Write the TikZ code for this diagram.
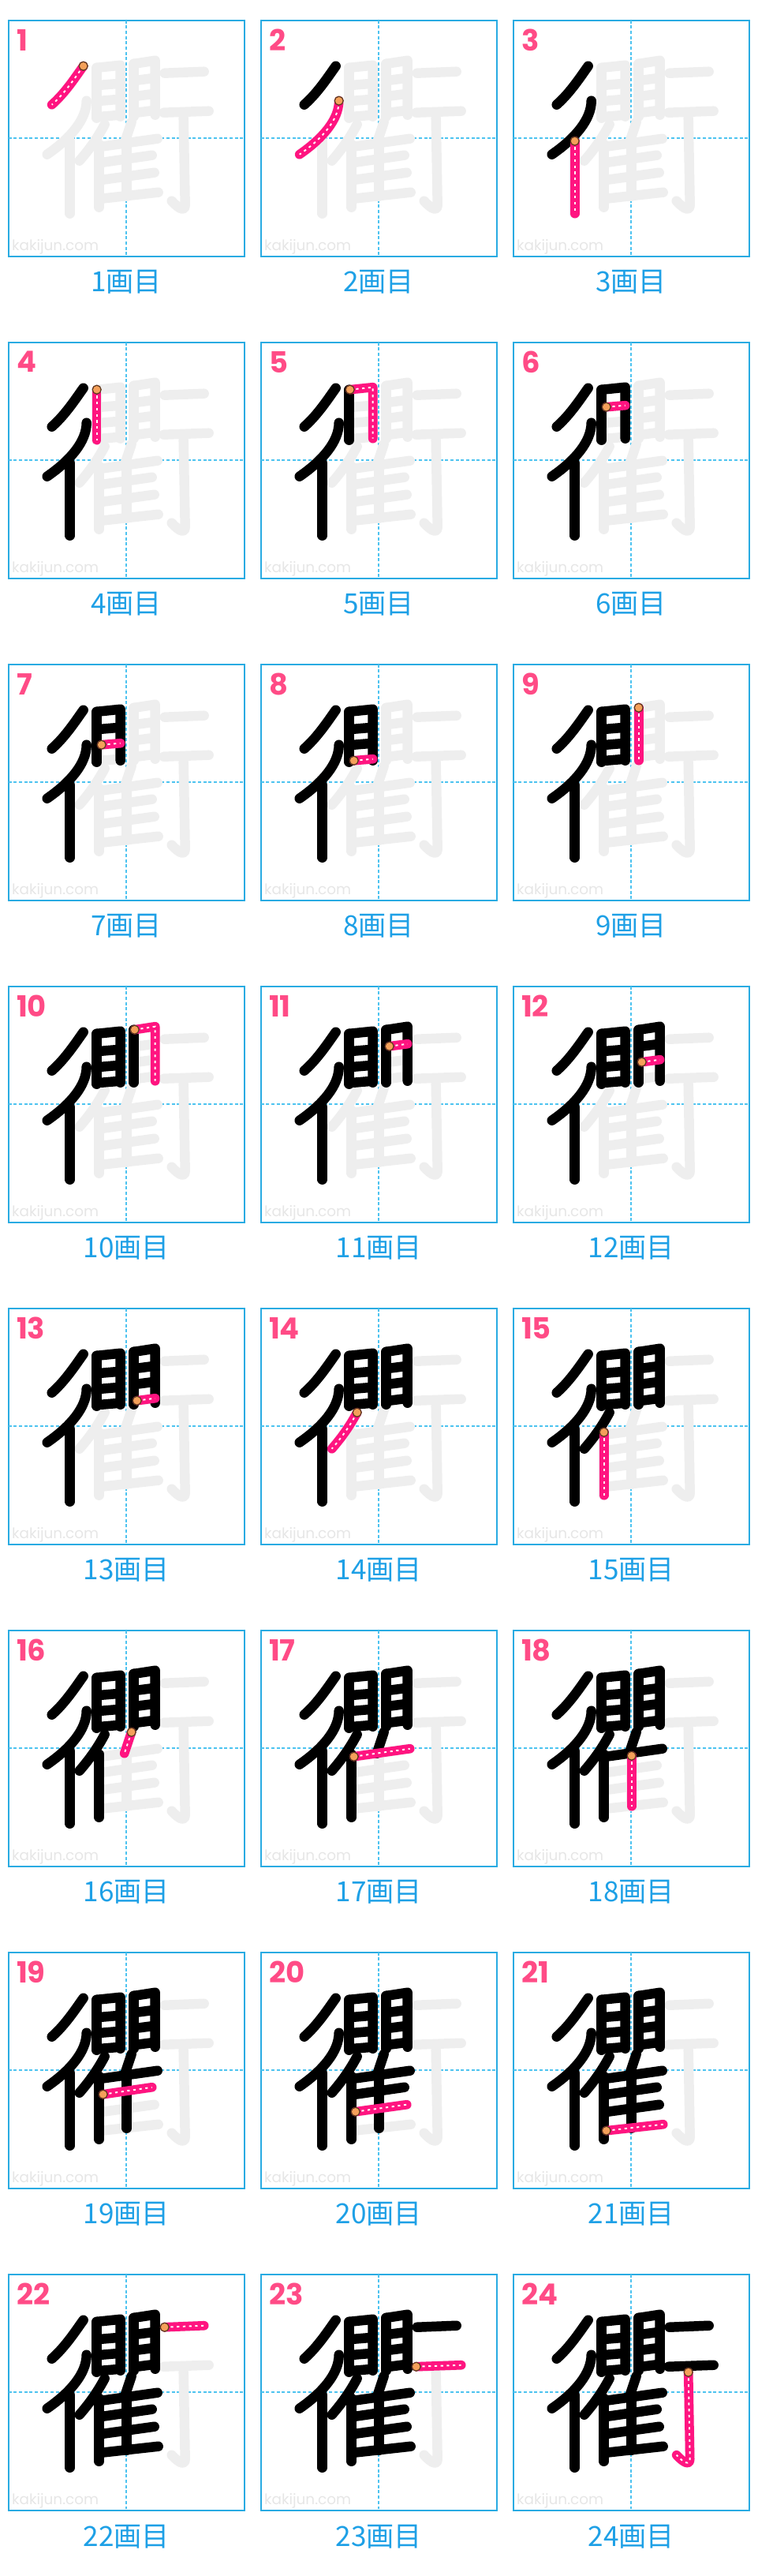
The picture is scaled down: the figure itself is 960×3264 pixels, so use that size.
\documentclass[tikz,border=0pt]{standalone}
\usepackage{fontspec}
\usepackage{tikz}
\usetikzlibrary{positioning}
\newfontfamily\jpfont{Noto Sans CJK JP}
\newfontfamily\numfont{Poppins}

\definecolor{boxblue}{HTML}{29ABE2}
\definecolor{guideblue}{HTML}{4DC3F0}
\definecolor{capblue}{HTML}{1EA0E6}
\definecolor{numpink}{HTML}{FF4B86}
\definecolor{strokepink}{HTML}{FF1480}
\definecolor{ghostgray}{HTML}{EEEEEE}
\definecolor{markgray}{HTML}{E6E6E6}
\definecolor{dotorange}{HTML}{F5A05A}
\definecolor{dotrim}{HTML}{5C3A1E}

% strokes of the character, cell coordinates in px (y down)
\newcommand\defstroke[3]{%
  \expandafter\def\csname kbeg#1\endcsname{#2}%
  \expandafter\def\csname kpath#1\endcsname{#2 #3}}
\defstroke{1}{(95,58)}{.. controls (85,72) and (72,92) .. (55,107)}
\defstroke{2}{(99,102)}{.. controls (99,126) and (78,150) .. (49,170)}
\defstroke{3}{(78,153)}{-- (78,245)}
\defstroke{4}{(112,60)}{-- (112,124)}
\defstroke{5}{(113,60)}{-- (142,57) -- (142,122)}
\defstroke{6}{(118,82)}{-- (142,80)}
\defstroke{7}{(118,102)}{-- (142,100)}
\defstroke{8}{(118,122)}{-- (142,120)}
\defstroke{9}{(159,55)}{-- (159,122)}
\defstroke{10}{(160,55)}{-- (186,51) -- (186,120)}
\defstroke{11}{(163,76)}{-- (186,73)}
\defstroke{12}{(163,96)}{-- (186,93)}
\defstroke{13}{(163,117)}{-- (186,114)}
\defstroke{14}{(122,132)}{.. controls (114,147) and (104,162) .. (90,178)}
\defstroke{15}{(115,157)}{-- (115,237)}
\defstroke{16}{(156,129)}{-- (147,156)}
\defstroke{17}{(118,160)}{-- (189,150)}
\defstroke{18}{(150,159)}{-- (150,223)}
\defstroke{19}{(120,180)}{-- (182,171)}
\defstroke{20}{(120,202)}{-- (185,193)}
\defstroke{21}{(118,226)}{-- (190,218)}
\defstroke{22}{(198,67)}{-- (248,65)}
\defstroke{23}{(197,117)}{-- (254,115)}
\defstroke{24}{(222,124)}{-- (224,234) .. controls (224,242) and (217,240) .. (207,229)}

\begin{document}
\begin{tikzpicture}[x=0.02cm, y=-0.02cm,
  cellbox/.style={draw=boxblue, line width=1pt},
  guide/.style={guideblue, line width=0.9pt, dash pattern=on 2.2pt off 1.6pt},
  ghost/.style={ghostgray, line width=7.1pt, line cap=round, line join=round},
  done/.style={black, line width=7.1pt, line cap=round, line join=round},
  current/.style={strokepink, line width=6.6pt, line cap=round, line join=round},
  currentdots/.style={white, line width=1.1pt, dash pattern=on 1.8pt off 2.6pt},
  startdot/.style={fill=dotorange, draw=dotrim, line width=0.7pt},
  numlabel/.style={numpink, font=\numfont\bfseries\fontsize{21}{21}\selectfont, inner sep=0pt, anchor=west},
  caplabel/.style={capblue, font=\jpfont\fontsize{20}{20}\selectfont, inner sep=0pt},
  watermark/.style={markgray, font=\numfont\fontsize{10.5}{10.5}\selectfont, inner sep=0pt, anchor=base west}]

  \useasboundingbox (0,0) rectangle (960,3264);

  \foreach \n in {1,...,24}{
    \pgfmathtruncatemacro\col{mod(\n-1,3)}
    \pgfmathtruncatemacro\row{div(\n-1,3)}
    \pgfmathtruncatemacro\prev{\n-1}
    \begin{scope}[shift={(10.7+320*\col,25.7+408*\row)}]
      % frame and guide lines
      \draw[cellbox] (0,0) rectangle (299,299);
      \draw[guide] (149.5,0) -- (149.5,299);
      \draw[guide] (0,149.5) -- (299,149.5);
      \node[watermark] (mark\n) at (4,292) {kakijun.com};
      % ghost character
      \foreach \k in {1,...,24}{
        \expandafter\let\expandafter\kp\csname kpath\k\endcsname
        \draw[ghost] \kp;
      }
      % strokes already written
      \ifnum\n>1
        \foreach \k in {1,...,\prev}{
          \expandafter\let\expandafter\kp\csname kpath\k\endcsname
          \draw[done] \kp;
        }
      \fi
      % current stroke
      \expandafter\let\expandafter\kp\csname kpath\n\endcsname
      \expandafter\let\expandafter\kb\csname kbeg\n\endcsname
      \draw[current] \kp;
      \draw[currentdots] \kp;
      \draw[startdot] \kb circle (5.5);
      % labels
      \node[numlabel] (num\n) at (10,25) {\n};
      \node[caplabel] (cap\n) at (149.5,332) {\n{}画目};
    \end{scope}
  }
\end{tikzpicture}
\end{document}
